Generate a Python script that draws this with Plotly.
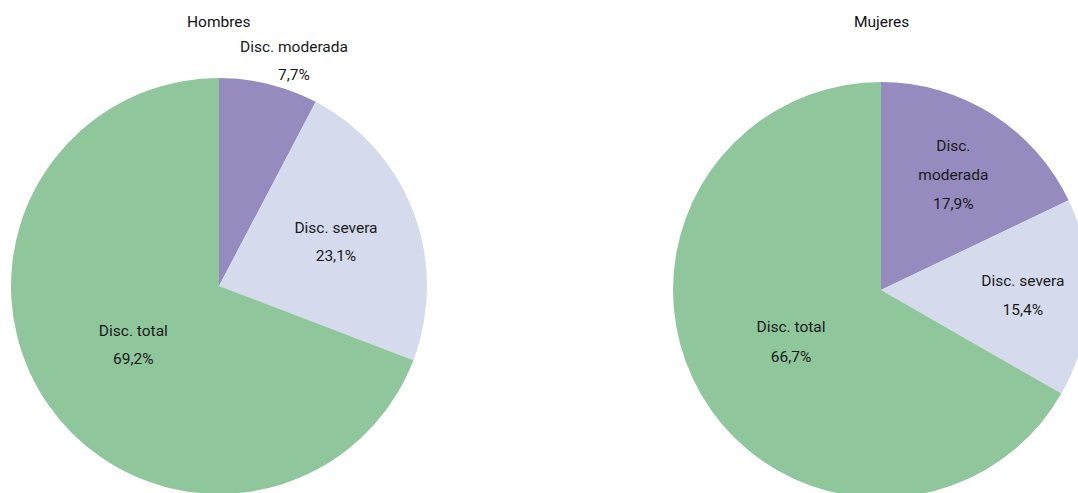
import plotly.graph_objects as go

# --- data ---
categorias = ["Disc. moderada", "Disc. severa", "Disc. total"]
hombres = [7.7, 23.1, 69.2]
mujeres = [17.9, 15.4, 66.7]
colores = ["#958bbf", "#d5daec", "#8fc69c"]

W, H = 1090, 500
FONT = "Roboto, sans-serif"
SZ = 15.5


def _fmt(v):
    return f"{v:.1f}".replace(".", ",") + "%"


def _lines(*parts):
    # smaller span inside a larger base font -> wider line spacing
    return "<br>".join(f"<span style='font-size:{SZ}px'>{p}</span>" for p in parts)


fig = go.Figure()

fig.add_trace(go.Pie(
    labels=categorias, values=hombres,
    text=["", _lines(categorias[1], _fmt(hombres[1])), _lines(categorias[2], _fmt(hombres[2]))],
    textinfo="text", textposition=["none", "inside", "inside"],
    insidetextorientation="horizontal",
    textfont=dict(family=FONT, size=21.5, color="#1a1a1a"),
    sort=False, direction="clockwise", rotation=0,
    marker=dict(colors=colores, line=dict(width=0)),
    domain=dict(x=[11 / W, 427 / W], y=[1 - 494 / H, 1 - 78 / H]),
    hoverinfo="label+percent", showlegend=False,
))

# small slice label sits above the pie
fig.add_annotation(x=294 / W, y=1 - 61 / H, xref="paper", yref="paper",
                   text=_lines(categorias[0], _fmt(hombres[0])), showarrow=False,
                   xanchor="center", yanchor="middle",
                   font=dict(family=FONT, size=21.5, color="#1a1a1a"))

mujeres_txt = [_lines("Disc.", "moderada", _fmt(mujeres[0])),
               _lines("Disc. severa", _fmt(mujeres[1])),
               _lines("Disc. total", _fmt(mujeres[2]))]
fig.add_trace(go.Pie(
    labels=categorias, values=mujeres,
    text=mujeres_txt,
    textinfo="text", textposition="inside",
    insidetextorientation="horizontal",
    textfont=dict(family=FONT, size=22.5, color="#1a1a1a"),
    sort=False, direction="clockwise", rotation=0,
    marker=dict(colors=colores, line=dict(width=0)),
    domain=dict(x=[673 / W, 1089 / W], y=[1 - 498 / H, 1 - 82 / H]),
    hoverinfo="label+percent", showlegend=False,
))

# --- titles ---
for x, t in [(219, "Hombres"), (881, "Mujeres")]:
    fig.add_annotation(x=x / W, y=1 - 22 / H, xref="paper", yref="paper",
                       text=t, showarrow=False, xanchor="center", yanchor="middle",
                       font=dict(family=FONT, size=SZ, color="#111"))

fig.update_layout(
    width=W, height=H,
    margin=dict(l=0, r=0, t=0, b=0),
    paper_bgcolor="white", plot_bgcolor="white",
    font=dict(family=FONT, size=SZ, color="#1a1a1a"),
    uniformtext=dict(minsize=10, mode="show"),
)

fig.write_html("out.html", config=dict(displayModeBar=False),
               post_script="document.body.style.margin='0';"
                           "document.body.style.overflow='hidden';"
                           "document.documentElement.style.overflow='hidden';")
